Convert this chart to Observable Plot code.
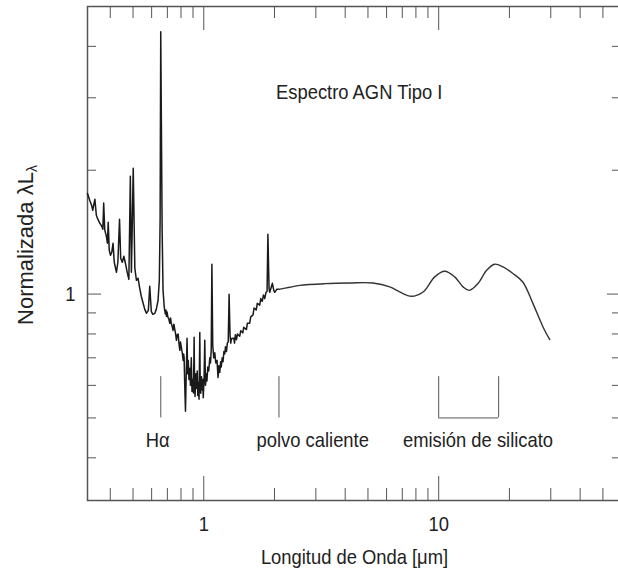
<!DOCTYPE html>
<html><head><meta charset="utf-8">
<script src="https://cdn.jsdelivr.net/npm/d3@7"></script>
<script src="https://cdn.jsdelivr.net/npm/@observablehq/plot@0.6"></script>
<style>html,body{margin:0;padding:0;background:#fff;overflow:hidden;width:618px;height:573px}</style>
</head><body><div id="chart"></div>
<script>
// Wavelength (µm) and normalized λLλ
const wavelength = [
  0.320,0.327,0.333,0.337,0.344,0.349,0.354,0.361,0.368,0.372,0.375,0.379,0.385,0.389,0.392,0.396,0.401,0.406,0.411,0.416,0.425,0.431,0.438,0.443,0.450,0.457,0.466,0.473,0.480,0.487,0.492,0.495,0.501,0.509,0.517,0.525,0.534,0.542,0.552,0.561,0.570,0.581,0.589,0.598,0.607,0.619,0.628,0.639,0.647,0.652,0.656,0.665,0.671,0.679,
  0.686,0.690,0.694,0.698,0.703,0.710,0.717,0.722,0.727,0.734,0.740,0.746,0.753,0.759,0.765,0.771,0.778,0.784,0.791,0.796,0.802,0.810,0.817,0.821,0.825,0.830,
  0.836,0.843,0.849,0.854,0.859,0.865,0.872,0.878,0.885,0.891,0.898,0.904,0.910,0.914,0.918,0.926,0.934,0.938,0.943,0.949,0.955,0.962,0.966,0.971,0.978,0.985,0.990,0.995,1.003,1.010,1.017,1.025,1.032,1.040,1.050,1.061,1.068,1.076,1.083,
  1.092,1.103,1.114,1.125,1.139,1.150,1.160,1.170,1.180,1.187,1.198,1.208,1.218,1.228,1.238,1.249,1.260,1.271,1.282,1.294,1.303,1.312,
  1.342,1.352,1.363,1.378,1.392,1.423,1.437,1.466,1.480,1.519,1.533,1.569,1.585,1.621,1.637,1.673,1.690,1.731,1.748,1.774,1.795,1.818,1.840,1.860,1.875,1.896,1.909,1.937,1.960,1.986,2.005,2.045,2.085,
  2.32,2.56,3.27,4.18,5.25,6.19,6.82,7.65,8.58,9.62,10.6,11.7,12.7,13.5,14.7,16.0,17.3,18.8,20.7,22.8,25.2,27.8,29.7
];
const luminosity = [
  1.756,1.691,1.645,1.599,1.701,1.555,1.521,1.487,1.462,1.438,1.664,1.430,1.383,1.329,1.495,1.278,1.243,1.264,1.329,1.195,1.130,1.195,1.521,1.222,1.195,1.236,1.175,1.124,1.086,1.935,1.130,1.352,2.023,1.155,1.080,1.093,1.033,0.988,0.950,0.918,0.898,0.913,1.045,0.908,0.893,0.898,0.918,0.966,1.080,1.512,4.342,1.430,1.021,0.929,
  0.895,0.915,0.883,0.905,0.880,0.870,0.849,0.875,0.850,0.835,0.816,0.845,0.820,0.800,0.772,0.795,0.800,0.760,0.730,0.765,0.745,0.720,0.690,0.715,0.700,0.600,
  0.519,0.652,0.781,0.640,0.690,0.620,0.660,0.600,0.700,0.580,0.620,0.575,0.785,0.600,0.564,0.640,0.590,0.650,0.567,0.610,0.555,0.807,0.590,0.574,0.630,0.585,0.620,0.560,0.620,0.772,0.600,0.640,0.615,0.665,0.650,0.700,0.680,0.730,1.182,
  0.751,0.700,0.720,0.680,0.690,0.627,0.670,0.645,0.685,0.665,0.700,0.685,0.725,0.715,0.745,0.725,0.760,0.765,0.999,0.794,0.760,0.780,
  0.781,0.760,0.797,0.775,0.800,0.790,0.815,0.805,0.830,0.820,0.850,0.850,0.880,0.890,0.925,0.915,0.950,0.940,0.975,0.960,0.995,0.975,1.010,1.015,1.398,1.033,1.010,1.039,1.062,1.021,1.010,1.027,1.027,
  1.039,1.050,1.060,1.064,1.064,1.041,1.012,0.988,1.012,1.101,1.136,1.101,1.041,1.021,1.061,1.143,1.182,1.164,1.122,1.070,0.948,0.832,0.775
];
const smoothFrom = 2.085; // beyond here the spectrum is a smooth IR curve

const xMajorTicks = [1, 10];
const xMinorTicks = [0.4,0.5,0.6,0.7,0.8,0.9,2,3,4,5,6,7,8,9,20,30,40,50];
const yMajorTicks = [1];
const yMinorTicks = [0.4,0.5,0.6,0.7,0.8,0.9,2,3,4];
const xTickLabels = [1, 10];
const yTickLabels = [1];

const featureLines = [0.6563, 2.09];          // Hα, polvo caliente
const featureSpan = [0.50, 0.63];             // vertical extent of the markers
const silicateBand = [10, 18];                // emisión de silicato bracket
const featureLabels = ["Hα", "polvo caliente", "emisión de silicato"];
const featureLabelX = [0.637, 2.91, 14.7];
const featureLabelY = 0.441;

const titleText = "Espectro AGN Tipo I";
const titlePos = [4.59, 3.10];
const xLabel = "Longitud de Onda [μm]";
const yLabel = "Normalizada λL";
const yLabelPos = 1.316;

const spectrum = wavelength.map((w, i) => ({w, v: luminosity[i]}));
const innerH = 494, innerW = 534;
const axisColor = "#555";
const font = "'Liberation Sans', Arial, Helvetica, sans-serif";

const plot = Plot.plot({
  width: 625, height: 573,
  marginLeft: 87, marginRight: 4, marginTop: 6, marginBottom: 73,
  x: {type: "log", domain: [0.32, 60], axis: null},
  y: {type: "log", domain: [0.315, 5], axis: null},
  style: {fontFamily: font, background: "white", maxWidth: "none", overflow: "visible"},
  marks: [
    Plot.frame({stroke: axisColor, strokeWidth: 1.5}),
    // x ticks bottom & top (inward)
    Plot.ruleX(xMinorTicks, {x: d => d, insetTop: innerH - 12, stroke: axisColor}),
    Plot.ruleX(xMinorTicks, {x: d => d, insetBottom: innerH - 12, stroke: axisColor}),
    Plot.ruleX(xMajorTicks, {x: d => d, insetTop: innerH - 24, stroke: axisColor}),
    Plot.ruleX(xMajorTicks, {x: d => d, insetBottom: innerH - 24, stroke: axisColor}),
    // y ticks left & right (inward)
    Plot.ruleY(yMinorTicks, {y: d => d, insetRight: innerW - 9, stroke: axisColor}),
    Plot.ruleY(yMinorTicks, {y: d => d, insetLeft: innerW - 9, stroke: axisColor}),
    Plot.ruleY(yMajorTicks, {y: d => d, insetRight: innerW - 14, stroke: axisColor}),
    Plot.ruleY(yMajorTicks, {y: d => d, insetLeft: innerW - 14, stroke: axisColor}),
    // spectrum
    Plot.line(spectrum.filter(d => d.w <= smoothFrom), {x: "w", y: "v", stroke: "#1a1a1a", strokeWidth: 1.5, strokeLinejoin: "round"}),
    Plot.line(spectrum.filter(d => d.w >= smoothFrom), {x: "w", y: "v", curve: "catmull-rom", stroke: "#333", strokeWidth: 1.4}),
    // feature markers
    Plot.ruleX(featureLines, {x: d => d, y1: featureSpan[0], y2: featureSpan[1], stroke: "#555"}),
    Plot.ruleX(silicateBand, {x: d => d, y1: featureSpan[0], y2: featureSpan[1], stroke: "#555"}),
    Plot.ruleY([featureSpan[0]], {y: d => d, x1: silicateBand[0], x2: silicateBand[1], stroke: "#555"}),
    Plot.text(featureLabels, {x: (d, i) => featureLabelX[i], y: () => featureLabelY, text: d => d, fontSize: 21, fill: "#222"}),
    Plot.text([titleText], {x: () => titlePos[0], y: () => titlePos[1], text: d => d, fontSize: 21, fill: "#222"}),
    // tick labels
    Plot.text(xTickLabels, {x: d => d, text: d => String(d), frameAnchor: "bottom", lineAnchor: "middle", dy: 24, fontSize: 21, fill: "#222"}),
    Plot.text(yTickLabels, {y: d => d, text: d => String(d), frameAnchor: "left", dx: -12, textAnchor: "end", fontSize: 21, fill: "#222"}),
    // axis labels
    Plot.text([xLabel], {x: () => Math.sqrt(0.32 * 60), text: d => d, frameAnchor: "bottom", lineAnchor: "middle", dy: 57, fontSize: 21, fill: "#222"}),
    Plot.text([yLabel], {y: () => yLabelPos, text: d => d, frameAnchor: "left", textAnchor: "middle", dx: -62, rotate: -90, fontSize: 22, fill: "#222"})
  ]
});

const svg = d3.select(plot);
svg.style("max-width", "none");
svg.selectAll("text").each(function() {
  const t = d3.select(this);
  const tr = t.attr("transform") || "";
  if (t.text() === yLabel) {
    t.append("tspan").attr("font-size", 14).attr("dy", "0.35em").text("λ");
  } else if (!tr.includes("rotate")) {
    t.attr("transform", tr + " scale(0.875,1)");
  }
});
document.getElementById("chart").appendChild(plot);
</script>
</body></html>
